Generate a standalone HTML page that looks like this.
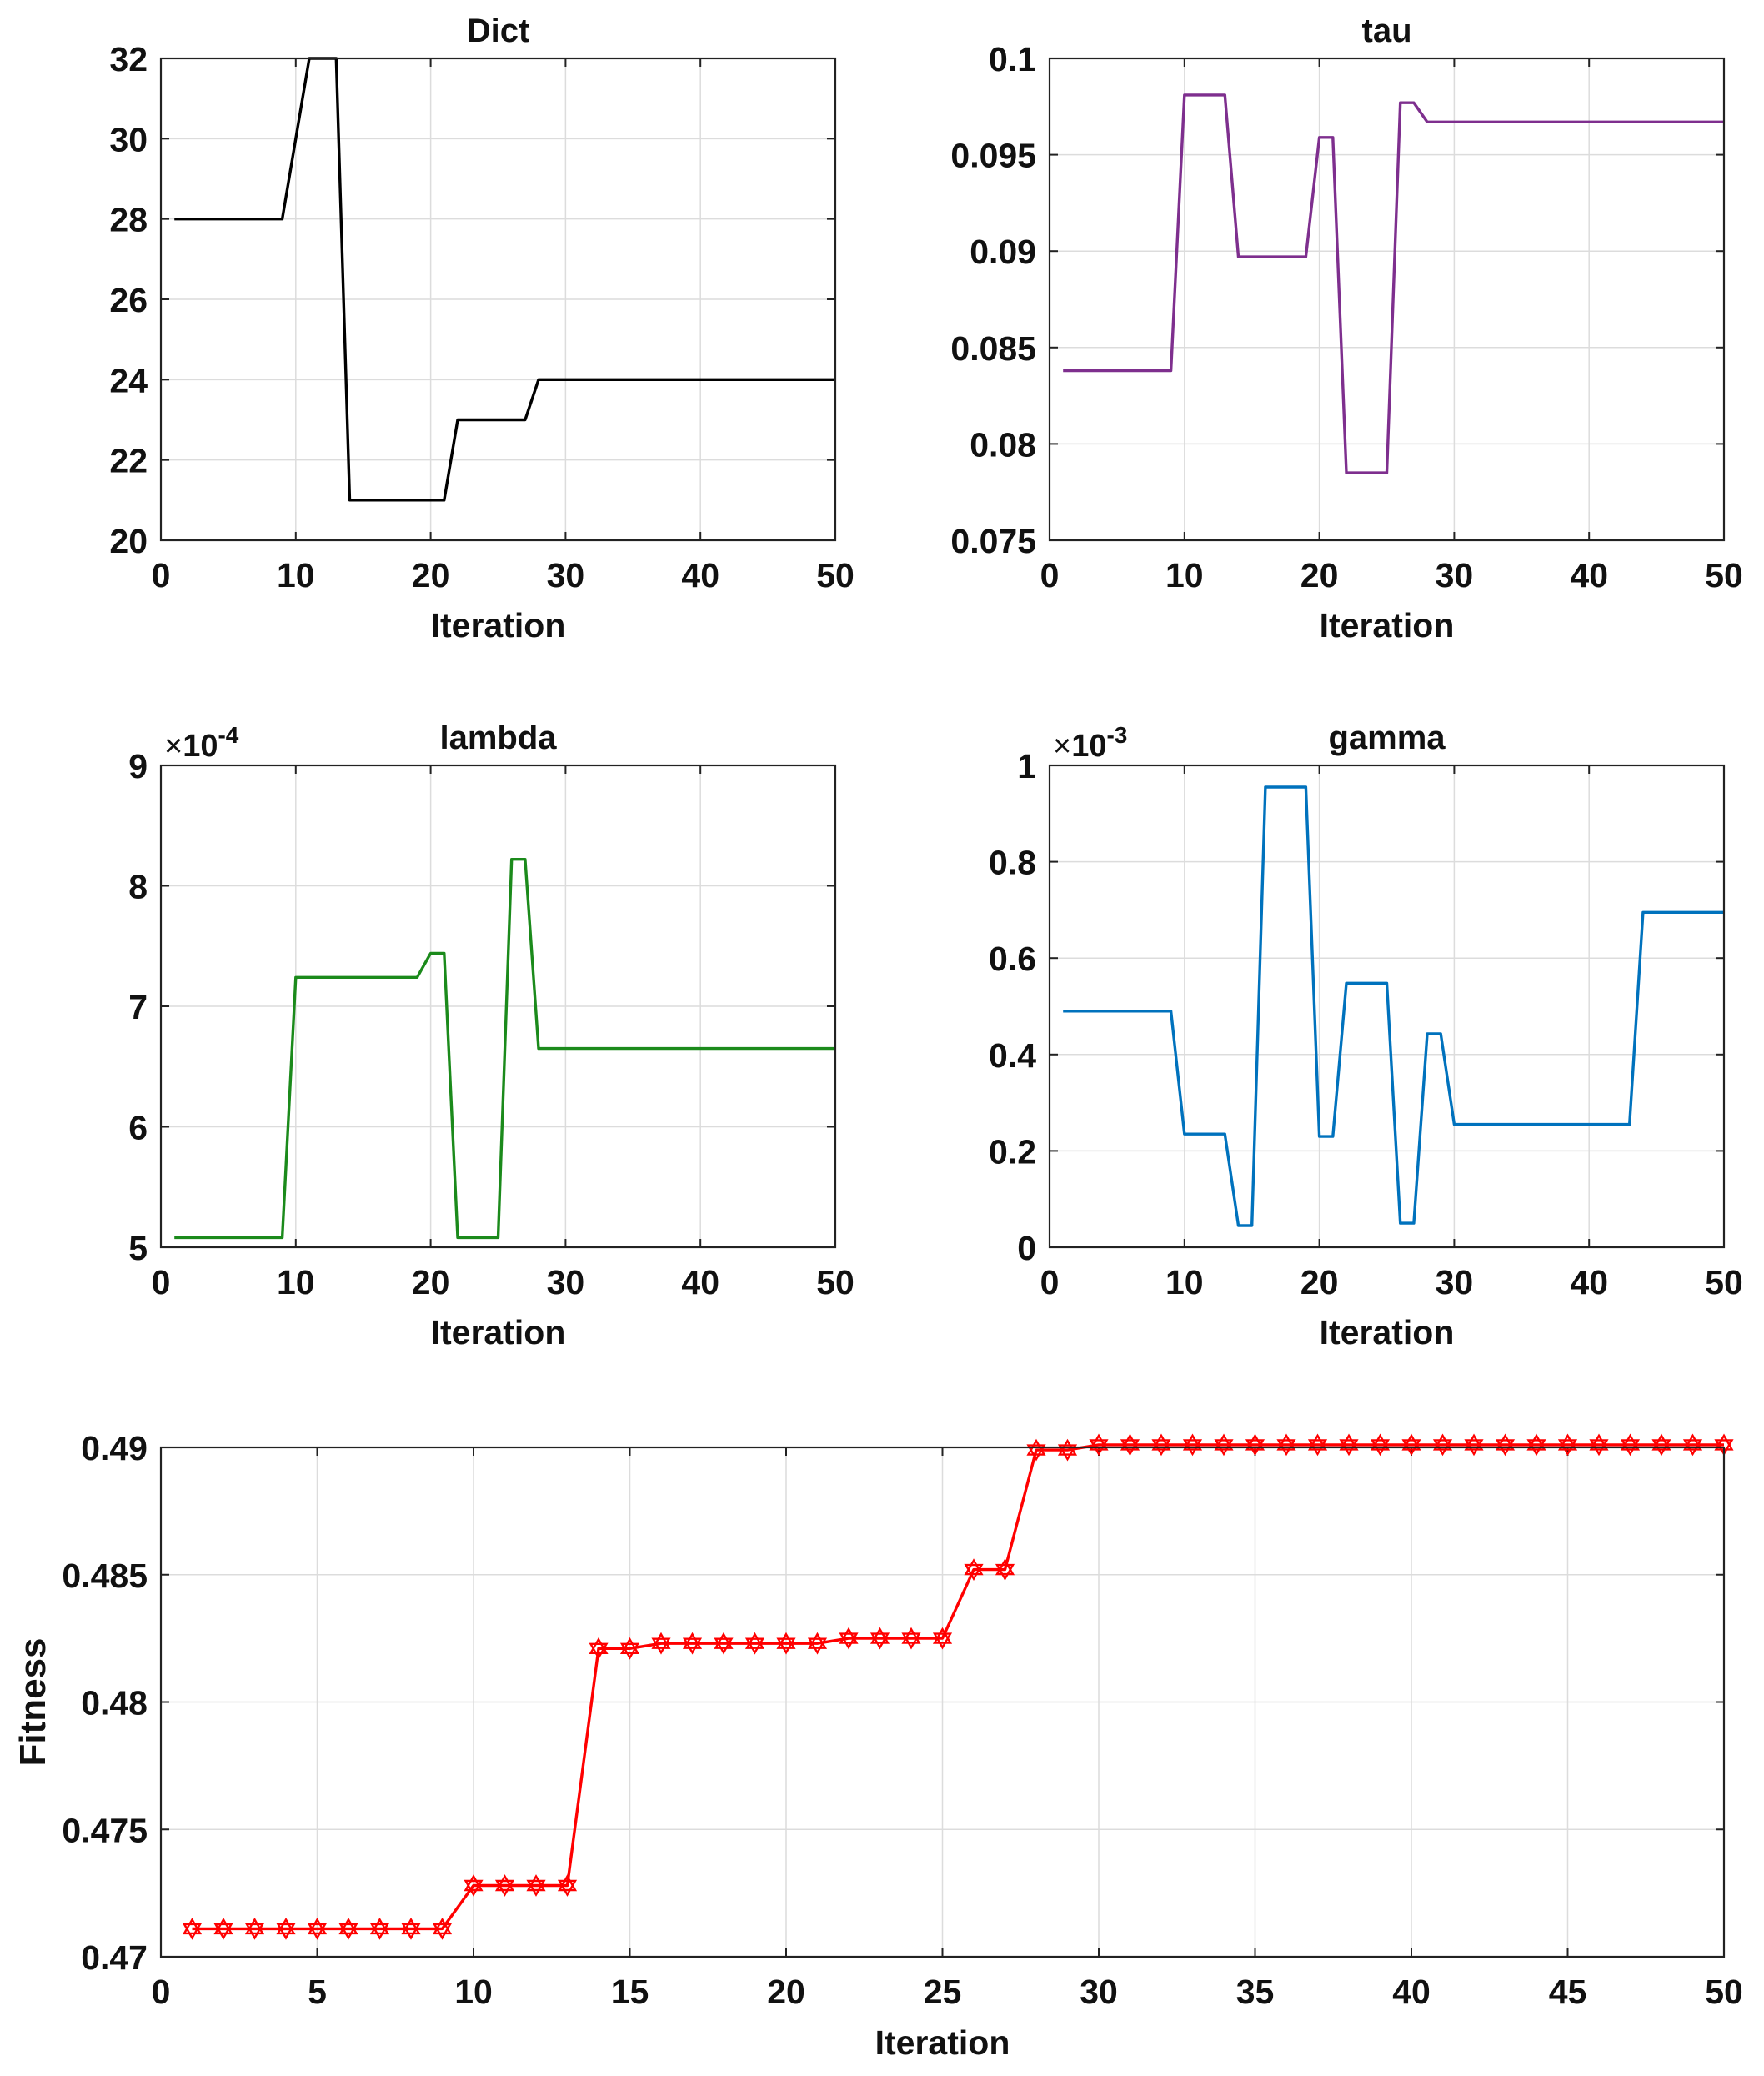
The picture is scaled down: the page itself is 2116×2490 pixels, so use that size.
<!DOCTYPE html>
<html><head><meta charset="utf-8">
<style>
html,body{margin:0;padding:0;background:#fff;}
svg{display:block;}
text{font-family:"Liberation Sans",Arial,sans-serif;font-weight:bold;fill:#111;}
</style></head>
<body>
<svg id="s" xmlns="http://www.w3.org/2000/svg" width="2116" height="2490" viewBox="0 0 2116 2490"></svg>
<script>
const S=document.getElementById('s');let h='';
function rng(a,b,v,arr){for(let i=a;i<=b;i++)arr[i]=v;}
function panel(o){
 const {x0,x1,y0,y1,xmin,xmax,ymin,ymax,xt,yt,ylab,data,color,title,xlabY,exp,markers,ylabel}=o;
 const X=v=>x0+(v-xmin)/(xmax-xmin)*(x1-x0), Y=v=>y1-(v-ymin)/(ymax-ymin)*(y1-y0);
 xt.forEach(v=>{if(v>xmin&&v<xmax)h+=`<line x1="${X(v)}" y1="${y0}" x2="${X(v)}" y2="${y1}" stroke="#dcdcdc" stroke-width="1.5"/>`;});
 yt.forEach(v=>{if(v>ymin&&v<ymax)h+=`<line x1="${x0}" y1="${Y(v)}" x2="${x1}" y2="${Y(v)}" stroke="#dcdcdc" stroke-width="1.5"/>`;});
 xt.forEach(v=>{h+=`<line x1="${X(v)}" y1="${y1}" x2="${X(v)}" y2="${y1-10}" stroke="#222" stroke-width="2"/><line x1="${X(v)}" y1="${y0}" x2="${X(v)}" y2="${y0+10}" stroke="#222" stroke-width="2"/>`;
  h+=`<text x="${X(v)}" y="${y1+56}" font-size="41" text-anchor="middle">${v}</text>`;});
 yt.forEach((v,i)=>{h+=`<line x1="${x0}" y1="${Y(v)}" x2="${x0+10}" y2="${Y(v)}" stroke="#222" stroke-width="2"/><line x1="${x1}" y1="${Y(v)}" x2="${x1-10}" y2="${Y(v)}" stroke="#222" stroke-width="2"/>`;
  h+=`<text x="${x0-16}" y="${Y(v)+15}" font-size="41" text-anchor="end">${ylab[i]}</text>`;});
 let pts=[];for(let i=1;i<data.length;i++)pts.push(X(i).toFixed(1)+','+Y(data[i]).toFixed(1));
 h+=`<polyline points="${pts.join(' ')}" fill="none" stroke="${color}" stroke-width="3.4" stroke-linejoin="round"/>`;
 if(markers){for(let i=1;i<data.length;i++){const cx=X(i),cy=Y(data[i]),r=11;
  const t1=[0,1,2].map(k=>{const a=-Math.PI/2+k*2*Math.PI/3;return (cx+r*Math.cos(a)).toFixed(1)+','+(cy+r*Math.sin(a)).toFixed(1)}).join(' ');
  const t2=[0,1,2].map(k=>{const a=Math.PI/2+k*2*Math.PI/3;return (cx+r*Math.cos(a)).toFixed(1)+','+(cy+r*Math.sin(a)).toFixed(1)}).join(' ');
  h+=`<polygon points="${t1}" fill="none" stroke="${color}" stroke-width="2.4"/><polygon points="${t2}" fill="none" stroke="${color}" stroke-width="2.4"/>`;}}
 h+=`<rect x="${x0}" y="${y0}" width="${x1-x0}" height="${y1-y0}" fill="none" stroke="#222" stroke-width="2.2"/>`;
 if(title)h+=`<text x="${(x0+x1)/2}" y="${y0-20}" font-size="40" text-anchor="middle">${title}</text>`;
 h+=`<text x="${(x0+x1)/2}" y="${xlabY}" font-size="41" text-anchor="middle">Iteration</text>`;
 if(exp)h+=`<text x="${x0+4}" y="${y0-11}" font-size="38" style="font-weight:normal">×<tspan style="font-weight:bold">10</tspan><tspan dy="-16" font-size="28" style="font-weight:bold">${exp}</tspan></text>`;
 if(ylabel)h+=`<text transform="translate(54,${(y0+y1)/2}) rotate(-90)" font-size="44" text-anchor="middle">${ylabel}</text>`;
}
const x10=[0,10,20,30,40,50];
let d=[];rng(1,9,28,d);d[10]=30;rng(11,13,32,d);rng(14,21,21,d);rng(22,27,23,d);rng(28,50,24,d);
panel({x0:193,x1:1002,y0:70,y1:648,xmin:0,xmax:50,ymin:20,ymax:32,xt:x10,yt:[20,22,24,26,28,30,32],ylab:['20','22','24','26','28','30','32'],data:d,color:'#000',title:'Dict',xlabY:764});
d=[];rng(1,9,0.0838,d);rng(10,13,0.0981,d);rng(14,19,0.0897,d);rng(20,21,0.0959,d);rng(22,25,0.0785,d);rng(26,27,0.0977,d);rng(28,50,0.0967,d);
panel({x0:1259,x1:2068,y0:70,y1:648,xmin:0,xmax:50,ymin:0.075,ymax:0.1,xt:x10,yt:[0.075,0.08,0.085,0.09,0.095,0.1],ylab:['0.075','0.08','0.085','0.09','0.095','0.1'],data:d,color:'#7E2F8E',title:'tau',xlabY:764});
d=[];rng(1,9,5.08,d);rng(10,19,7.24,d);rng(20,21,7.44,d);rng(22,25,5.08,d);rng(26,27,8.22,d);rng(28,50,6.65,d);
panel({x0:193,x1:1002,y0:918,y1:1496,xmin:0,xmax:50,ymin:5,ymax:9,xt:x10,yt:[5,6,7,8,9],ylab:['5','6','7','8','9'],data:d,color:'#1b8a1b',title:'lambda',xlabY:1612,exp:'-4'});
d=[];rng(1,9,0.49,d);rng(10,13,0.235,d);rng(14,15,0.045,d);rng(16,19,0.955,d);rng(20,21,0.23,d);rng(22,25,0.548,d);rng(26,27,0.05,d);rng(28,29,0.443,d);rng(30,43,0.255,d);rng(44,50,0.695,d);
panel({x0:1259,x1:2068,y0:918,y1:1496,xmin:0,xmax:50,ymin:0,ymax:1,xt:x10,yt:[0,0.2,0.4,0.6,0.8,1],ylab:['0','0.2','0.4','0.6','0.8','1'],data:d,color:'#0072BD',title:'gamma',xlabY:1612,exp:'-3'});
d=[];rng(1,9,0.4711,d);rng(10,13,0.4728,d);rng(14,15,0.4821,d);rng(16,21,0.4823,d);rng(22,25,0.4825,d);rng(26,27,0.4852,d);rng(28,29,0.4899,d);rng(30,50,0.4901,d);
panel({x0:193,x1:2068,y0:1736,y1:2347,xmin:0,xmax:50,ymin:0.47,ymax:0.49,xt:[0,5,10,15,20,25,30,35,40,45,50],yt:[0.47,0.475,0.48,0.485,0.49],ylab:['0.47','0.475','0.48','0.485','0.49'],data:d,color:'#ff0000',markers:true,xlabY:2464,ylabel:'Fitness'});
S.innerHTML=h;
</script>
</body></html>
